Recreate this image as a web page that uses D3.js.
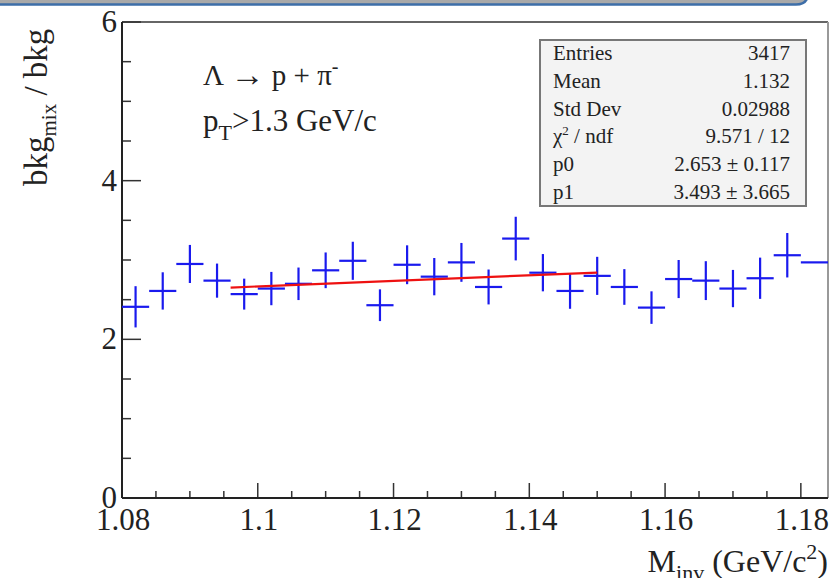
<!DOCTYPE html>
<html>
<head>
<meta charset="utf-8">
<script src="https://cdn.jsdelivr.net/npm/d3@7"></script>
<style>
  html, body { margin: 0; padding: 0; background: #fff; }
  svg { display: block; }
  text { font-family: "Liberation Serif", "Times New Roman", serif; fill: #222; }
</style>
</head>
<body>
<svg id="chart" width="835" height="578"></svg>
<script>
// ---------- data ----------
const binCenters = [1.082, 1.086, 1.090, 1.094, 1.098, 1.102, 1.106, 1.110, 1.114, 1.118,
                    1.122, 1.126, 1.130, 1.134, 1.138, 1.142, 1.146, 1.150, 1.154, 1.158,
                    1.162, 1.166, 1.170, 1.174, 1.178, 1.182];
const ratioValues = [2.41, 2.61, 2.95, 2.74, 2.57, 2.64, 2.70, 2.87, 2.99, 2.43,
                     2.94, 2.79, 2.97, 2.66, 3.27, 2.84, 2.61, 2.80, 2.66, 2.40,
                     2.76, 2.74, 2.64, 2.77, 3.06, 2.97];
const ratioErrors = [0.26, 0.235, 0.24, 0.215, 0.195, 0.21, 0.205, 0.225, 0.24, 0.20,
                     0.245, 0.235, 0.245, 0.22, 0.275, 0.235, 0.225, 0.24, 0.225, 0.205,
                     0.24, 0.245, 0.235, 0.26, 0.28, 0.0];
const binWidth = 0.004;
const xDomain = [1.08, 1.184];
const yDomain = [0, 6];
const xTickLabels = ["1.08", "1.1", "1.12", "1.14", "1.16", "1.18"];
const yTickLabels = ["0", "2", "4", "6"];
const fitRange = [1.096, 1.15];
const fitP0 = 2.653, fitP1 = 3.493;
const statLabels = ["Entries", "Mean", "Std Dev", "CHI", "p0", "p1"];
const statValues = ["3417", "1.132", "0.02988", "9.571 / 12", "2.653 \u00b1 0.117", "3.493 \u00b1 3.665"];

// ---------- layout ----------
const svg = d3.select("#chart");
const L = 122, R = 828, T = 22, B = 498;
const x = d3.scaleLinear().domain(xDomain).range([L, R]);
const y = d3.scaleLinear().domain(yDomain).range([B, T]);

// top window band
svg.append("path")
  .attr("d", "M-10,-20 L794,-20 Q808,-20 808,-6 L808,-8 Q808,5 794,5 L-10,5 Z")
  .attr("fill", "#a9a9a9");
svg.append("path")
  .attr("d", "M-10,4.5 L796,4.5 Q806,4.5 808,-4")
  .attr("fill", "none").attr("stroke", "#3d6ea8").attr("stroke-width", 2.5);

// frame
svg.append("line").attr("x1", L).attr("x2", R).attr("y1", T).attr("y2", T)
  .attr("stroke", "#666").attr("stroke-width", 2);
svg.append("line").attr("x1", R).attr("x2", R).attr("y1", T).attr("y2", B)
  .attr("stroke", "#999").attr("stroke-width", 2);

// x axis ticks (inward)
const xMajor = xTickLabels.map(Number);
const xMinor = d3.range(1.08, 1.1841, 0.005).filter(v => !xMajor.some(m => Math.abs(m - v) < 1e-6));
const gx = svg.append("g");
gx.selectAll("line.maj").data(xMajor).join("line")
  .attr("x1", d => x(d)).attr("x2", d => x(d)).attr("y1", B).attr("y2", B - 15)
  .attr("stroke", "#333").attr("stroke-width", 1.5);
gx.selectAll("line.min").data(xMinor).join("line")
  .attr("x1", d => x(d)).attr("x2", d => x(d)).attr("y1", B).attr("y2", B - 7)
  .attr("stroke", "#333").attr("stroke-width", 1.5);
gx.selectAll("text").data(xTickLabels).join("text")
  .attr("x", d => x(+d) + 1).attr("y", 530).attr("text-anchor", "middle")
  .attr("font-size", 31).text(d => d);

// y axis ticks (inward)
const yMajor = yTickLabels.map(Number);
const yMinor = d3.range(0, 6.01, 0.5).filter(v => !yMajor.includes(v));
const gy = svg.append("g");
gy.selectAll("line.maj").data(yMajor).join("line")
  .attr("x1", L).attr("x2", L + 19).attr("y1", d => y(d)).attr("y2", d => y(d))
  .attr("stroke", "#333").attr("stroke-width", 1.5);
gy.selectAll("line.min").data(yMinor).join("line")
  .attr("x1", L).attr("x2", L + 9).attr("y1", d => y(d)).attr("y2", d => y(d))
  .attr("stroke", "#333").attr("stroke-width", 1.5);
gy.selectAll("text").data(yTickLabels).join("text")
  .attr("x", 117).attr("y", d => y(+d) + 10).attr("text-anchor", "end")
  .attr("font-size", 31).text(d => d);

// axis lines
svg.append("line").attr("x1", L).attr("x2", R).attr("y1", B).attr("y2", B)
  .attr("stroke", "#222").attr("stroke-width", 2);
svg.append("line").attr("x1", L).attr("x2", L).attr("y1", T).attr("y2", B)
  .attr("stroke", "#222").attr("stroke-width", 2);

// data points with error bars
const pts = binCenters.map((c, i) => ({c, v: ratioValues[i], e: ratioErrors[i]}));
const gp = svg.append("g").attr("stroke", "#1a1aee").attr("stroke-width", 2.2);
gp.selectAll("line.h").data(pts).join("line")
  .attr("x1", d => x(d.c - binWidth / 2)).attr("x2", d => Math.min(x(d.c + binWidth / 2), R))
  .attr("y1", d => y(d.v)).attr("y2", d => y(d.v));
gp.selectAll("line.v").data(pts.filter(d => d.e > 0)).join("line")
  .attr("x1", d => x(d.c)).attr("x2", d => x(d.c))
  .attr("y1", d => y(d.v - d.e)).attr("y2", d => y(d.v + d.e));

// fit line
const fitPts = fitRange.map(xx => [xx, fitP0 + fitP1 * (xx - fitRange[0])]);
svg.append("path")
  .attr("d", d3.line().x(d => x(d[0])).y(d => y(d[1]))(fitPts))
  .attr("stroke", "#ee1111").attr("stroke-width", 2.2).attr("fill", "none");

// annotations
const t1 = svg.append("text").attr("x", 203).attr("y", 85).attr("font-size", 29);
t1.append("tspan").text("\u039b ");
t1.append("tspan").attr("font-size", 34).attr("dy", 1).text("\u2192");
t1.append("tspan").attr("dy", -1).text(" p + \u03c0");
t1.append("tspan").attr("font-size", 20).attr("dy", -12).text("-");
const t2 = svg.append("text").attr("x", 203).attr("y", 131).attr("font-size", 31);
t2.append("tspan").text("p");
t2.append("tspan").attr("font-size", 22).attr("dy", 9).text("T");
t2.append("tspan").attr("dy", -9).text(">1.3 GeV/c");

// y title
const yt = svg.append("text").attr("transform", "translate(47,186) rotate(-90)")
  .attr("font-size", 33);
yt.append("tspan").text("bkg");
yt.append("tspan").attr("font-size", 21).attr("dy", 9).text("mix");
yt.append("tspan").attr("dy", -9).text(" / bkg");

// x title
const xt = svg.append("text").attr("x", 828).attr("y", 572).attr("text-anchor", "end")
  .attr("font-size", 32);
xt.append("tspan").text("M");
xt.append("tspan").attr("font-size", 22).attr("dy", 8).text("inv");
xt.append("tspan").attr("dy", -8).text(" (GeV/c");
xt.append("tspan").attr("font-size", 22).attr("dy", -13).text("2");
xt.append("tspan").attr("dy", 13).text(")");

// stats box
svg.append("rect").attr("x", 540).attr("y", 40).attr("width", 266).attr("height", 166)
  .attr("fill", "#f3f3f3").attr("stroke", "#777").attr("stroke-width", 2);
const gs = svg.append("g");
statLabels.forEach((lab, i) => {
  const yy = 60 + 27.8 * i;
  const tl = gs.append("text").attr("x", 553).attr("y", yy).attr("font-size", 21);
  if (lab === "CHI") {
    tl.append("tspan").text("\u03c7");
    tl.append("tspan").attr("font-size", 13).attr("dy", -8).text("2");
    tl.append("tspan").attr("dy", 8).text(" / ndf");
  } else {
    tl.text(lab);
  }
  gs.append("text").attr("x", 790).attr("y", yy).attr("text-anchor", "end")
    .attr("font-size", 21).text(statValues[i]);
});
</script>
</body>
</html>
